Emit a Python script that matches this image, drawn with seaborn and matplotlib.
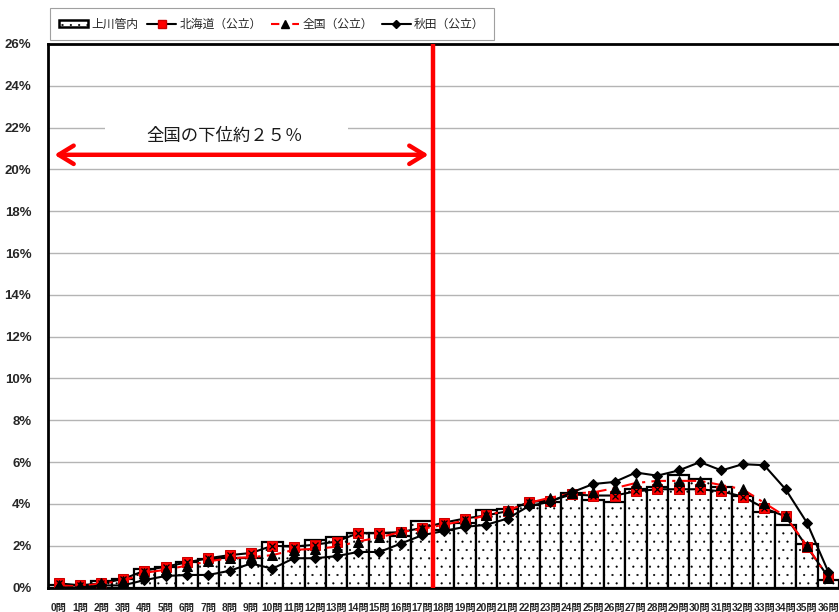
import numpy as np
import pandas as pd
import matplotlib
matplotlib.use("Agg")
import matplotlib.pyplot as plt
from matplotlib.patches import Rectangle, Patch
from matplotlib.lines import Line2D
import seaborn as sns

# Score categories (number of correct answers)
categories = [f"{i}問" for i in range(37)]

# Share of students per score (%)
kamikawa = [0.1, 0.1, 0.3, 0.4, 0.9, 1.0, 1.2, 1.35, 1.4, 1.4, 2.2, 2.0, 2.25, 2.4,
            2.6, 2.6, 2.45, 3.2, 2.75, 3.1, 3.7, 3.75, 3.95, 4.1, 4.5, 4.2, 4.1,
            4.7, 4.8, 5.4, 5.2, 4.8, 4.4, 3.6, 3.0, 2.1, 0.35]
hokkaido = [0.2, 0.1, 0.2, 0.4, 0.8, 1.0, 1.2, 1.4, 1.55, 1.65, 2.0, 1.95, 2.05, 2.2,
            2.6, 2.6, 2.65, 2.85, 3.1, 3.3, 3.45, 3.65, 4.1, 4.15, 4.45, 4.4, 4.4,
            4.6, 4.7, 4.7, 4.7, 4.6, 4.35, 3.8, 3.4, 1.95, 0.5]
zenkoku = [0.1, 0.05, 0.2, 0.3, 0.7, 0.85, 1.05, 1.25, 1.4, 1.45, 1.55, 1.8, 1.85, 1.95,
           2.2, 2.4, 2.65, 2.8, 3.0, 3.2, 3.45, 3.7, 4.05, 4.3, 4.5, 4.55, 4.75,
           5.0, 5.1, 5.1, 5.1, 4.9, 4.7, 4.05, 3.4, 2.0, 0.45]
akita = [0.0, 0.0, 0.1, 0.1, 0.35, 0.55, 0.6, 0.6, 0.8, 1.15, 0.9, 1.4, 1.4, 1.5,
         1.7, 1.7, 2.1, 2.5, 2.7, 2.9, 3.0, 3.3, 3.9, 4.1, 4.55, 4.95, 5.05,
         5.5, 5.35, 5.6, 6.0, 5.6, 5.9, 5.85, 4.7, 3.1, 0.75]

series_names = ["上川管内", "北海道（公立）", "全国（公立）", "秋田（公立）"]
y_ticks = list(range(0, 27, 2))
cutoff_pos = 17.5          # boundary between 17問 and 18問
cutoff_label = "全国の下位約２５％"

sns.set_theme(style="white")
plt.rcParams["font.family"] = ["Liberation Sans", "Noto Sans CJK JP", "DejaVu Sans"]
plt.rcParams["hatch.linewidth"] = 0.3
cjk = ["Noto Sans CJK JP", "DejaVu Sans"]

df = pd.DataFrame({"cat": categories, "pos": np.arange(len(categories)),
                   "kamikawa": kamikawa, "hokkaido": hokkaido,
                   "zenkoku": zenkoku, "akita": akita})

fig = plt.figure(figsize=(8.39, 6.12), dpi=100)
ax = fig.add_axes([48 / 839, 24.5 / 612, 791 / 839, 543.5 / 612])

# Bars for the local district, dotted fill
sns.barplot(data=df, x="cat", y="kamikawa", ax=ax, width=1.0, color="white",
            edgecolor="black", linewidth=1.6, zorder=2)
for b in ax.patches:
    b.set_facecolor("white")
    b.set_hatch("..")

# Hokkaido: black line, red square with cross
sns.lineplot(data=df, x="pos", y="hokkaido", ax=ax, color="black", lw=1.5,
             marker="s", markersize=7, markerfacecolor="red",
             markeredgecolor="#cc0000", zorder=4, sort=False)
ax.plot(df["pos"], df["hokkaido"], ls="none", marker="x", markersize=5,
        mec="black", mew=0.9, zorder=4.1)

# National: red dash-dot line, black triangles
sns.lineplot(data=df, x="pos", y="zenkoku", ax=ax, color="red", lw=1.5,
             marker="^", markersize=7, markerfacecolor="black",
             markeredgecolor="black", zorder=5, sort=False)
ax.lines[-1].set_linestyle((0, (7, 3, 1.5, 3)))

# Akita: black line, black diamonds
sns.lineplot(data=df, x="pos", y="akita", ax=ax, color="black", lw=1.5,
             marker="D", markersize=5.5, markerfacecolor="black",
             markeredgecolor="black", zorder=6, sort=False)

# Axes styling
ax.set_xlim(-0.5, len(categories) - 0.5)
ax.set_ylim(0, 26)
ax.set_yticks(y_ticks)
ax.set_yticklabels([f"{v}%" for v in y_ticks], fontsize=9.5, fontweight="bold")
ax.set_xticks(np.arange(len(categories)))
ax.set_xticklabels(categories, fontsize=7.4, fontweight="bold")
ax.tick_params(axis="y", length=0, pad=12)
ax.tick_params(axis="x", length=0, pad=11)
ax.set_xlabel("")
ax.set_ylabel("")
ax.yaxis.grid(True, color="#b4b4b4", lw=1.0, zorder=0)
ax.set_axisbelow(True)
for s in ax.spines.values():
    s.set_color("black")
    s.set_linewidth(2.0)
ax.spines["right"].set_visible(False)
if ax.get_legend():
    ax.get_legend().remove()

# Cutoff line for the lowest quarter nationally
ax.axvline(cutoff_pos, color="red", lw=3.2, zorder=7)

# Label with white backing over the gridline
ax.add_patch(Rectangle((2.15, 21.05), 11.4, 1.5, facecolor="white",
                       edgecolor="none", zorder=1))
ax.text(7.75, 21.6, cutoff_label, ha="center", va="center", fontsize=12.5,
        family=cjk, color="#1a1a1a", zorder=8)
ax.annotate("", xy=(-0.2, 20.7), xytext=(17.3, 20.7),
            arrowprops=dict(arrowstyle="<->,head_length=0.9,head_width=0.55",
                            color="red", lw=3.2, shrinkA=0, shrinkB=0),
            zorder=8)

# Legend
handles = [
    Patch(facecolor="white", edgecolor="black", lw=1.8, hatch=".."),
    Line2D([], [], color="black", lw=1.5, marker="s", markersize=5.5,
           markerfacecolor="red", markeredgecolor="#cc0000"),
    Line2D([], [], color="red", lw=1.5, ls=(0, (4, 2.5, 1.2, 2.5)), marker="^",
           markersize=5.5, markerfacecolor="black", markeredgecolor="black"),
    Line2D([], [], color="black", lw=1.5, marker="D", markersize=4.5,
           markerfacecolor="black", markeredgecolor="black"),
]
leg = fig.legend(handles, series_names, loc="lower left",
                 bbox_to_anchor=(50 / 839, 1 - 40 / 612, 444 / 839, 33 / 612),
                 mode="expand", borderaxespad=0, ncol=4,
                 frameon=True, fancybox=False, edgecolor="#888888",
                 handlelength=2.4, handleheight=0.55,
                 handletextpad=0.3, borderpad=0.8,
                 prop={"family": cjk, "size": 8.5})
leg.get_frame().set_linewidth(0.8)

fig.savefig("out.png", dpi=100)
